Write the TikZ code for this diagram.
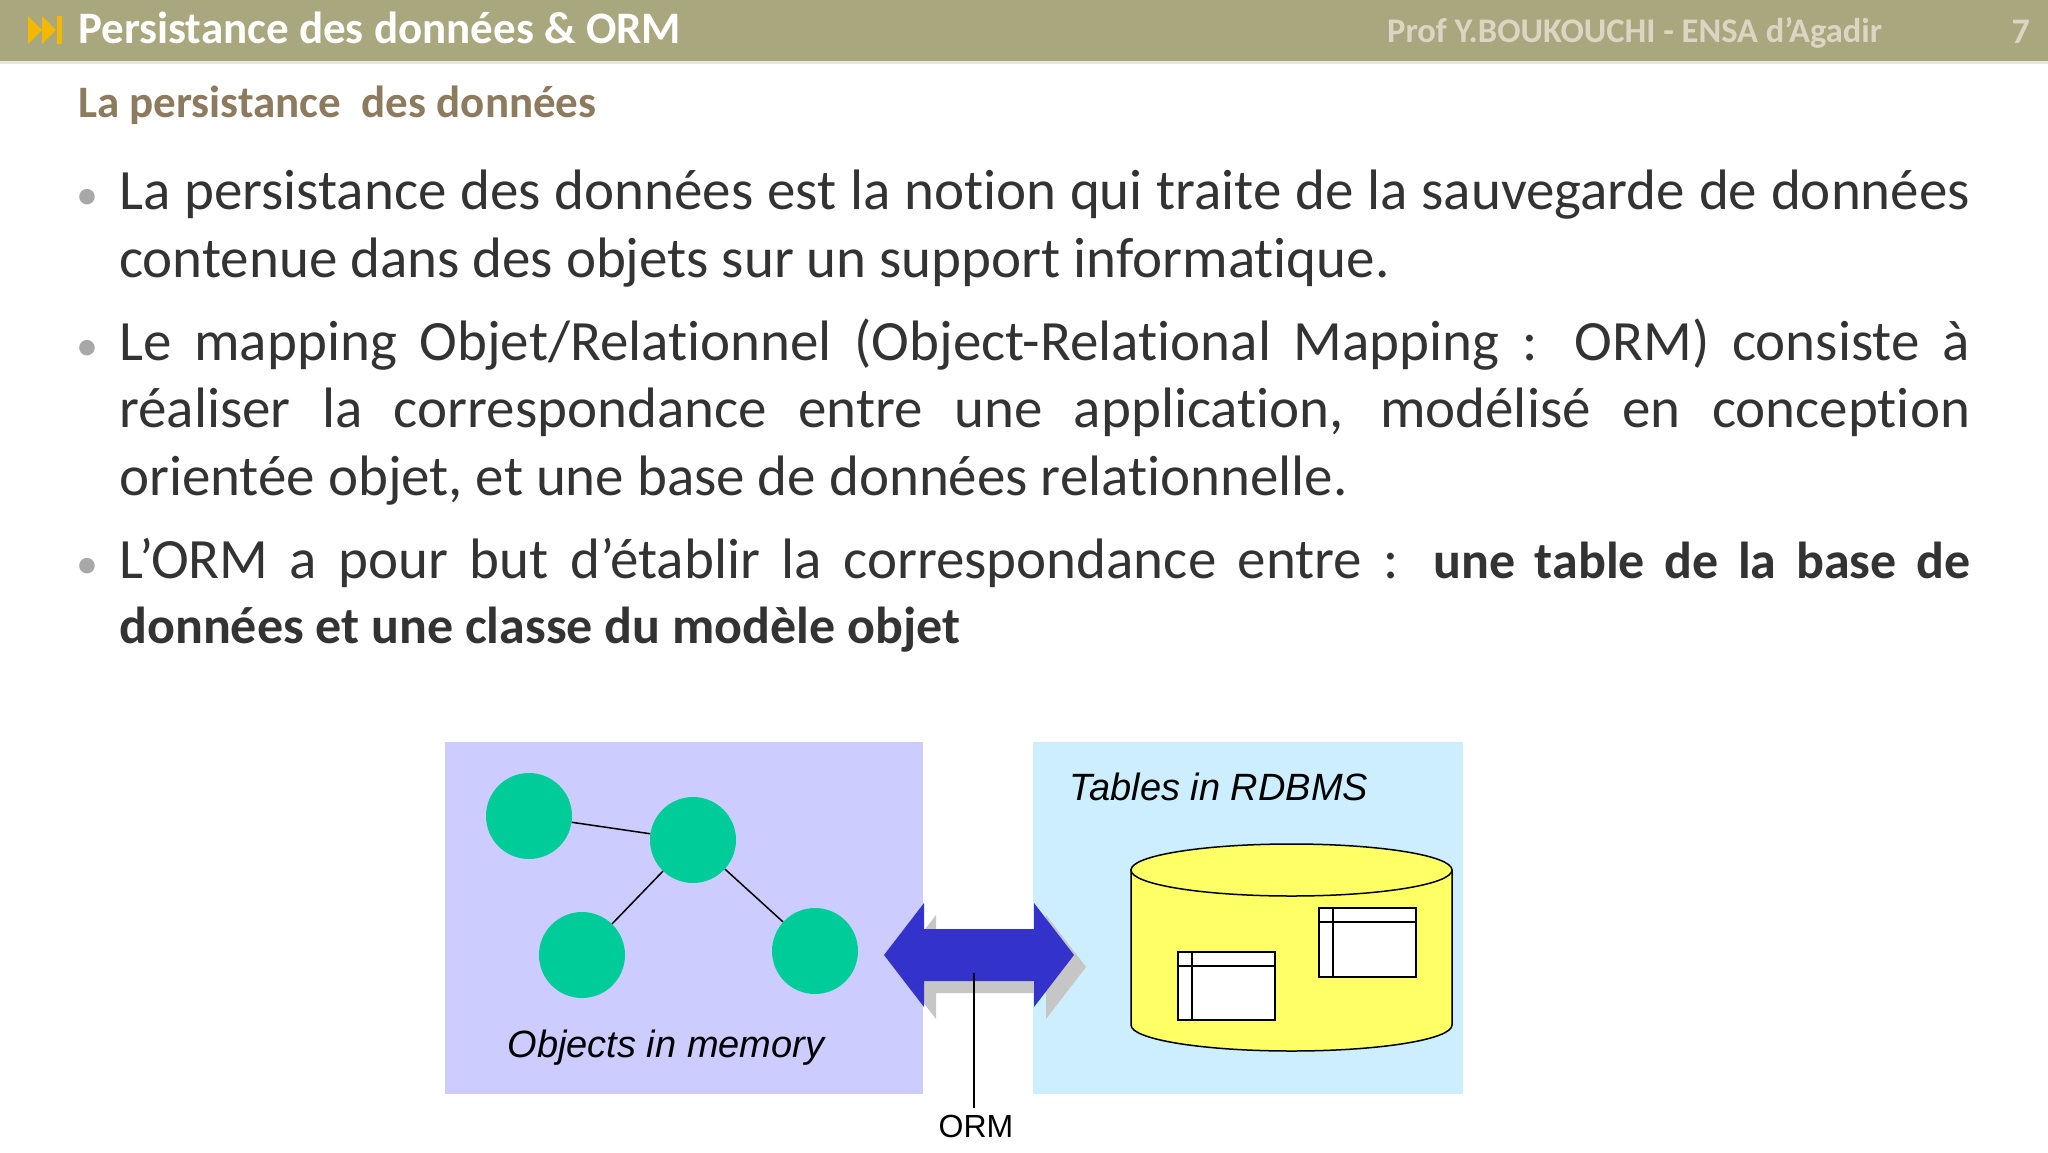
\documentclass[tikz,border=0pt]{standalone}
\usepackage{fontspec}
\setmainfont[Ligatures=NoCommon]{Carlito}
\newfontfamily\arialf{Liberation Sans}
\usetikzlibrary{shapes.geometric,calc}
\definecolor{barc}{HTML}{A9A77E}
\definecolor{authc}{HTML}{D9D7C3}
\definecolor{subc}{HTML}{8C7B5E}
\definecolor{txtc}{HTML}{333333}
\definecolor{bulc}{HTML}{A8A8A8}
\definecolor{memc}{HTML}{CCCCFF}
\definecolor{dbc}{HTML}{CCEEFF}
\definecolor{objc}{HTML}{00CC99}
\definecolor{arrc}{HTML}{3333CC}
\definecolor{cylc}{HTML}{FFFF66}
\definecolor{iconc}{HTML}{F5B800}
\newcommand\bldtxt[1]{{\fontsize{52}{68}\selectfont\bfseries #1}}
\begin{document}
\begin{tikzpicture}[x=1pt,y=-1pt,
  line/.style={anchor=base west,inner sep=0pt,font=\fontsize{57}{68}\selectfont,text=txtc},
  bul/.style={anchor=base west,inner sep=0pt,font=\fontsize{44}{48}\selectfont,text=bulc},
  obj/.style={circle,fill=objc,minimum size=86pt,inner sep=0pt},
  lbl/.style={inner sep=0pt,font=\arialf\itshape\fontsize{38}{44}\selectfont},
  tbl/.style={draw=black,fill=white,line width=1.5pt}]
\useasboundingbox (0,0) rectangle (2048,1152);
\fill[white] (0,0) rectangle (2048,1152);
% header
\fill[barc] (0,0) rectangle (2048,61);
\fill[authc!60!white] (0,61) rectangle (2048,64);
\fill[iconc] (28,16) -- (42,30) -- (28,44) -- cycle;
\fill[iconc] (42,16) -- (56,30) -- (42,44) -- cycle;
\fill[iconc] (57,16) rectangle (62,44);
\node[anchor=base west,inner sep=0pt,text=white,font=\bfseries\fontsize{45}{50}\selectfont] (title) at (78,43) {Persistance des données \& ORM};
\node[anchor=base west,inner sep=0pt,text=authc,font=\bfseries\fontsize{34.5}{38}\selectfont] (auth) at (1387,42) {Prof Y.BOUKOUCHI - ENSA d'Agadir};
\node[anchor=base east,inner sep=0pt,text=authc,font=\bfseries\fontsize{36}{38}\selectfont] (pg) at (2030,43) {7};
\node[anchor=base west,inner sep=0pt,text=subc,font=\bfseries\fontsize{45}{50}\selectfont] (sub) at (78,117) {La persistance\ \ des données};
% bullets
\node[bul] (b1) at (76,209) {•};
\node[line] (l1) at (119,209) {\makebox[1851pt][s]{La persistance des données est la notion qui traite de la sauvegarde de données}};
\node[line] (l2) at (119,277) {contenue dans des objets sur un support informatique.};
\node[bul] (b2) at (76,360) {•};
\node[line] (l3) at (119,360) {\makebox[1851pt][s]{Le mapping Objet/Relationnel (Object-Relational Mapping : ORM) consiste à}};
\node[line] (l4) at (119,427) {\makebox[1851pt][s]{réaliser la correspondance entre une application, modélisé en conception}};
\node[line] (l5) at (119,495) {orientée objet, et une base de données relationnelle.};
\node[bul] (b3) at (76,578) {•};
\node[line] (l6) at (119,578) {\makebox[1851pt][s]{L’ORM a pour but d’établir la correspondance entre : \bldtxt{une table de la base de}}};
\node[line] (l7) at (119,643) {\bldtxt{données et une classe du modèle objet}};
% diagram boxes
\fill[memc] (445,742) rectangle (923,1094);
\fill[dbc] (1033,742) rectangle (1463,1094);
\node[obj] (c1) at (529,816) {};
\node[obj] (c2) at (693,840) {};
\node[obj] (c3) at (582,955) {};
\node[obj] (c4) at (815,951) {};
\draw[line width=1.5pt] (c1) -- (c2);
\draw[line width=1.5pt] (c2) -- (c3);
\draw[line width=1.5pt] (c2) -- (c4);
\node[lbl] (mem) at (666,1048) {Objects in memory};
\node[lbl] (tab) at (1219,787) {Tables in RDBMS};
% cylinder
\draw[fill=cylc,line width=1.5pt] (1131,870) -- (1131,1025) arc[start angle=180,end angle=0,x radius=160.5,y radius=26] -- (1452,870) -- cycle;
\draw[fill=cylc,line width=1.5pt] (1291.5,870) ellipse[x radius=160.5,y radius=26];
\draw[tbl] (1178,952) rectangle (1275,1020);
\draw[line width=1.5pt] (1178,966) -- (1275,966) (1192,952) -- (1192,1020);
\draw[tbl] (1319,908) rectangle (1416,977);
\draw[line width=1.5pt] (1319,922) -- (1416,922) (1333,908) -- (1333,977);
% arrow
\coordinate (al) at (884,955);
\coordinate (ar) at (1074,955);
\fill[gray!45] ($(al)+(12,12)$) -- ++(40,-52) -- ++(0,26) -- ++(110,0) -- ++(0,-26) -- ++(40,52) -- ++(-40,52) -- ++(0,-26) -- ++(-110,0) -- ++(0,26) -- cycle;
\fill[arrc] (al) -- ++(40,-52) -- ++(0,26) -- ++(110,0) -- ++(0,-26) -- (ar) -- ++(-40,52) -- ++(0,-26) -- ++(-110,0) -- ++(0,26) -- cycle;
\node[inner sep=0pt,font=\arialf\fontsize{32}{36}\selectfont] (orm) at (976,1126) {ORM};
\coordinate (ormtop) at (974,973);
\draw[line width=1.8pt] (ormtop) -- ($(ormtop |- orm.north)+(0,-6)$);
\end{tikzpicture}
\end{document}
